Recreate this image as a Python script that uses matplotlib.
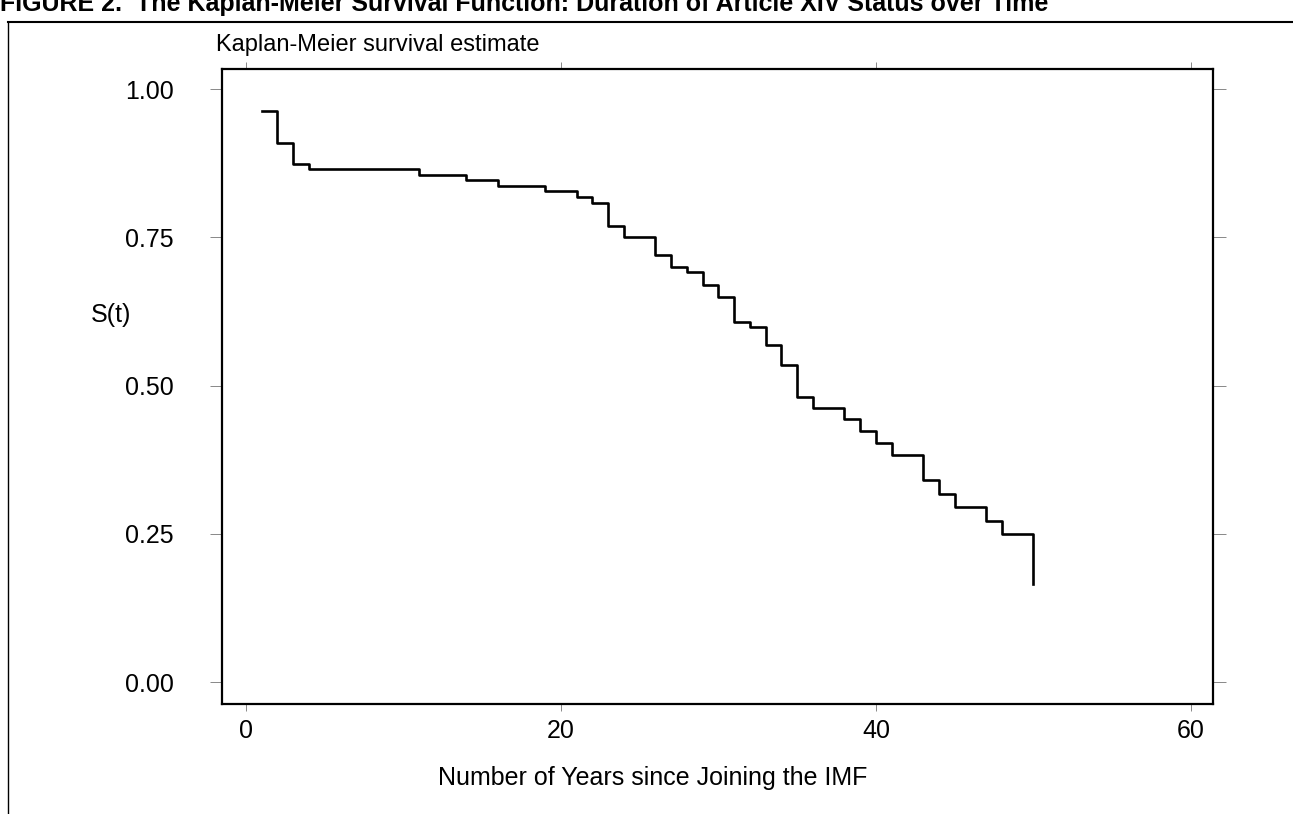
import numpy as np
import matplotlib
matplotlib.use("Agg")
import matplotlib.pyplot as plt

plt.rcParams['font.family'] = ['Liberation Sans', 'DejaVu Sans']

#%% Kaplan-Meier step values
years = [1, 2, 3, 4, 11, 14, 16, 19, 21, 22, 23, 24, 26, 27, 28, 29, 30, 31,
         32, 33, 34, 35, 36, 38, 39, 40, 41, 43, 44, 45, 47, 48, 50]
surv = [0.964, 0.910, 0.874, 0.865, 0.855, 0.846, 0.837, 0.828, 0.818, 0.808,
        0.769, 0.750, 0.720, 0.700, 0.691, 0.669, 0.650, 0.607, 0.599, 0.569,
        0.534, 0.480, 0.462, 0.443, 0.424, 0.403, 0.383, 0.341, 0.318, 0.295,
        0.271, 0.250, 0.165]
xticks = [0, 20, 40, 60]
yticks = [0.00, 0.25, 0.50, 0.75, 1.00]

W, H = 1293, 814
fig = plt.figure(figsize=(W / 100, H / 100), dpi=100)

#%% Page decoration (caption clipped at the top edge, rule and left margin line)
fig.text(0 / W, 1 - 11 / H,
         "FIGURE 2.  The Kaplan-Meier Survival Function: Duration of Article XIV Status over Time",
         fontsize=18, fontweight='bold', ha='left', va='baseline')
fig.add_artist(plt.Line2D([8 / W, 1], [1 - 22 / H, 1 - 22 / H], color='black', lw=1.5))
fig.add_artist(plt.Line2D([8 / W, 8 / W], [0, 1 - 22 / H], color='black', lw=1.0))

#%% Plot
ax = fig.add_axes([222 / W, 1 - 704 / H, 991 / W, 635 / H])
ax.plot(years, surv, drawstyle='steps-post', color='black', lw=1.9)
ax.set_xlim(-1.52, 61.4)
ax.set_ylim(-0.037, 1.034)
ax.set_xticks(xticks)
ax.set_yticks(yticks)
ax.set_yticklabels(['%.2f' % v for v in yticks])
for s in ax.spines.values():
    s.set_linewidth(1.6)
ax.tick_params(axis='x', direction='out', length=5, width=0.7, color='#888888',
               top=True, labelsize=18, pad=6)
ax.tick_params(axis='y', direction='out', length=9, width=0.7, color='#888888',
               right=True, labelsize=18, pad=26)

fig.text(216 / W, 1 - 45 / H, "Kaplan-Meier survival estimate",
         fontsize=17, ha='left', va='center')
fig.text(111 / W, 1 - 315 / H, "S(t)", fontsize=18, ha='center', va='center')
fig.text(653 / W, 1 - 778 / H, "Number of Years since Joining the IMF",
         fontsize=18, ha='center', va='center')

fig.savefig('out.png', dpi=100)
